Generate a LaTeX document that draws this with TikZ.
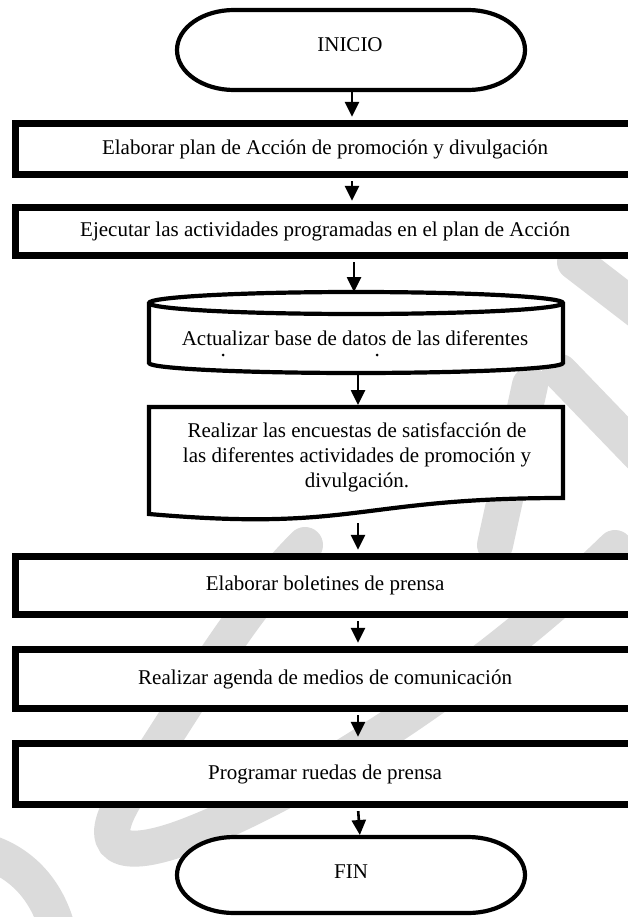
\documentclass[tikz,border=0pt]{standalone}
\usepackage{fontspec}
\setmainfont{Liberation Serif}
\usetikzlibrary{arrows.meta}

\begin{document}
\begin{tikzpicture}[x=1pt,y=-1pt,
  txt/.style={font=\fontsize{21}{25}\selectfont, align=center, inner sep=0pt},
  bound/.style={inner sep=0pt, outer sep=0pt, minimum width=#1},
  procbox/.style={draw, line width=6.8pt, fill=white, inner sep=0pt,
    minimum width=619.75pt, font=\fontsize{21}{25}\selectfont},
  termline/.style={line width=4.2pt, fill=white},
  flow/.style={-{Triangle[width=14pt,length=15pt]}, line width=2.6pt},
  wmark/.style={draw=black!14, line width=36pt, line cap=round}]

\useasboundingbox (0,0) rectangle (627,917);
\fill[white] (0,0) rectangle (627,917);

% ---------- faint watermark strokes behind the chart ----------
\draw[wmark] (305,545) .. controls (240,610) and (190,700) .. (130,790)
  .. controls (90,850) and (120,862) .. (190,835)
  .. controls (330,780) and (500,660) .. (615,548);
\draw[wmark] (-20,850) .. controls (20,860) and (50,890) .. (60,940);
\draw[wmark] (575,262) -- (640,312);
\draw[wmark] (560,372) -- (640,455);
\draw[wmark] (530,385) -- (495,545);

% ---------- start terminal ----------
\node[bound=348pt, minimum height=80pt] (inicio) at (351,50) {};
\draw[termline] ([xshift=57pt]inicio.north west) -- ([xshift=-57pt]inicio.north east)
  arc[start angle=90, end angle=-90, x radius=57pt, y radius=40pt]
  -- ([xshift=57pt]inicio.south west)
  arc[start angle=270, end angle=90, x radius=57pt, y radius=40pt] -- cycle;
\node[txt] (inicioTxt) at (350,45) {INICIO};

% ---------- process boxes ----------
\node[procbox, minimum height=51.5pt] (b1) at (325.1,149)
  {Elaborar plan de Acción de promoción y divulgación};
\node[procbox, minimum height=48.5pt] (b2) at (325.1,231.5)
  {Ejecutar las actividades programadas en el plan de Acción};

% ---------- data store (cylinder) ----------
\node[bound=414pt, minimum height=81pt] (cyl) at (356,332.5) {};
\draw[termline] (cyl.west |- 0,303)
  arc[start angle=180, end angle=0, x radius=207pt, y radius=11pt]
  -- (cyl.east |- 0,363)
  arc[start angle=0, end angle=-180, x radius=207pt, y radius=10pt] -- cycle;
\draw[line width=4.2pt] (cyl.west |- 0,303)
  arc[start angle=180, end angle=360, x radius=207pt, y radius=11pt];
\node[txt] (cylTxt) at (355,338) {Actualizar base de datos de las diferentes};
\fill (223,355) circle (1.5pt) (377,355) circle (1.5pt);

% ---------- document ----------
\node[bound=414pt, minimum height=107pt] (doc) at (356,460.5) {};
\draw[termline] (doc.north west) -- (doc.north east) -- (563,498)
  .. controls (356,498) and (356,532) .. (149,514) -- cycle;
\node[txt] (docTxt) at (357,457) {Realizar las encuestas de satisfacción de\\
  las diferentes actividades de promoción y\\ divulgación.};
\coordinate (docBottom) at (358,523);

% ---------- remaining process boxes ----------
\node[procbox, minimum height=58.5pt] (b3) at (325.1,585.5) {Elaborar boletines de prensa};
\node[procbox, minimum height=59.5pt] (b4) at (325.1,679) {Realizar agenda de medios de comunicación};
\node[procbox, minimum height=61.5pt] (b5) at (325.1,774) {Programar ruedas de prensa};

% ---------- end terminal ----------
\node[bound=348pt, minimum height=76pt] (fin) at (351,875) {};
\draw[termline] ([xshift=57pt]fin.north west) -- ([xshift=-57pt]fin.north east)
  arc[start angle=90, end angle=-90, x radius=57pt, y radius=38pt]
  -- ([xshift=57pt]fin.south west)
  arc[start angle=270, end angle=90, x radius=57pt, y radius=38pt] -- cycle;
\node[txt] (finTxt) at (351,872) {FIN};

% ---------- connectors ----------
\coordinate (xa) at (352,0);
\coordinate (xb) at (354,0);
\coordinate (xc) at (358,0);
\coordinate (xd) at (360,0);
\draw[flow, shorten <=2pt, shorten >=3pt] (inicio.south -| xa) -- (b1.north -| xa);
\draw[flow, shorten <=3pt, shorten >=3pt] (b1.south -| xa) -- (b2.north -| xa);
\draw[flow, shorten <=3pt, shorten >=0pt] (b2.south -| xb) -- (cyl.north -| xb);
\draw[flow, shorten <=2pt, shorten >=2pt] (cyl.south -| xc) -- (doc.north -| xc);
\draw[flow, shorten >=3pt] (docBottom) -- (b3.north -| xc);
\draw[flow, shorten <=3pt, shorten >=3pt] (b3.south -| xc) -- (b4.north -| xc);
\draw[flow, shorten <=3pt, shorten >=3pt] (b4.south -| xc) -- (b5.north -| xc);
\draw[flow, shorten <=3pt, shorten >=2pt] (b5.south -| xc) -- (fin.north -| xd);
\end{tikzpicture}
\end{document}
